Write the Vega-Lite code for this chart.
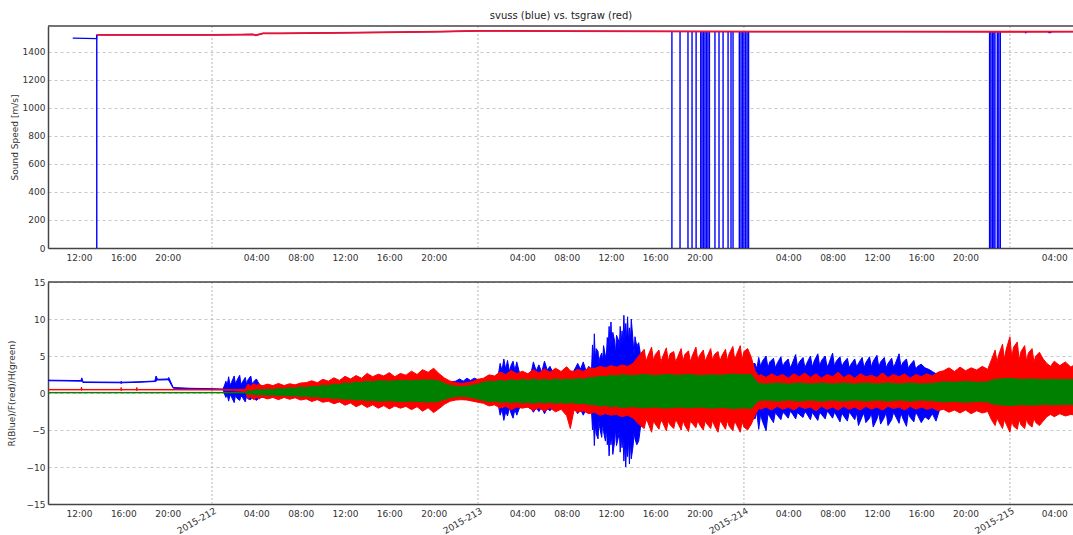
{
"$schema": "https://vega.github.io/schema/vega-lite/v6.json",
"padding": {"left": 7, "top": 11, "right": 0, "bottom": 0},
"spacing": 16,
"config": {
  "view": {"stroke": null},
  "font": "DejaVu Sans",
  "axis": {"labelFont": "DejaVu Sans", "labelFontSize": 9, "labelColor": "#333", "titleFont": "DejaVu Sans", "titleFontSize": 9, "titleFontWeight": "normal", "titleColor": "#333", "domainColor": "#444", "domainWidth": 1.5, "ticks": false, "gridColor": "#c8c8c8", "gridDash": [3, 3], "labelPadding": 5},
  "axisY": {"labelPadding": 3, "labelOverlap": false},
  "title": {"font": "DejaVu Sans", "fontSize": 10, "fontWeight": "normal", "color": "#222"}
},
"datasets": {
  "M": [{"t": "2015-07-31T00:00"}, {"t": "2015-08-01T00:00"}, {"t": "2015-08-02T00:00"}, {"t": "2015-08-03T00:00"}],
  "S": [{"t":"2015-07-30T11:26","v":1498},{"t":"2015-07-30T13:35","v":1495},{"t":"2015-07-30T13:37","v":1521},{"t":"2015-07-30T18:30","v":1521},{"t":"2015-07-31T00:00","v":1521},{"t":"2015-07-31T02:37","v":1524},{"t":"2015-07-31T03:40","v":1525},{"t":"2015-07-31T03:58","v":1519},{"t":"2015-07-31T04:36","v":1532},{"t":"2015-07-31T06:14","v":1533},{"t":"2015-07-31T10:44","v":1536},{"t":"2015-07-31T15:15","v":1540},{"t":"2015-07-31T20:40","v":1545},{"t":"2015-08-01T00:00","v":1550},{"t":"2015-08-01T07:29","v":1549},{"t":"2015-08-01T16:31","v":1546},{"t":"2015-08-02T01:32","v":1545},{"t":"2015-08-02T14:10","v":1545},{"t":"2015-08-03T00:00","v":1544},{"t":"2015-08-03T01:20","v":1544},{"t":"2015-08-03T01:26","v":1536},{"t":"2015-08-03T01:32","v":1544},{"t":"2015-08-03T03:25","v":1544},{"t":"2015-08-03T03:31","v":1537},{"t":"2015-08-03T03:40","v":1537},{"t":"2015-08-03T03:46","v":1544},{"t":"2015-08-03T06:00","v":1545}],
  "T": [{"t":"2015-07-30T13:37","v":1521},{"t":"2015-07-30T18:30","v":1521},{"t":"2015-07-31T00:00","v":1521},{"t":"2015-07-31T02:37","v":1524},{"t":"2015-07-31T03:40","v":1525},{"t":"2015-07-31T03:58","v":1519},{"t":"2015-07-31T04:36","v":1532},{"t":"2015-07-31T06:14","v":1533},{"t":"2015-07-31T10:44","v":1536},{"t":"2015-07-31T15:15","v":1540},{"t":"2015-07-31T20:40","v":1545},{"t":"2015-08-01T00:00","v":1550},{"t":"2015-08-01T07:29","v":1549},{"t":"2015-08-01T16:31","v":1546},{"t":"2015-08-02T01:32","v":1545},{"t":"2015-08-02T14:10","v":1545},{"t":"2015-08-03T00:00","v":1544},{"t":"2015-08-03T06:00","v":1545}],
  "D": [{"t":"2015-07-30T13:36","v":1521},
    {"t":"2015-08-01T17:30","v":1547},{"t":"2015-08-01T18:14","v":1547},{"t":"2015-08-01T18:57","v":1547},{"t":"2015-08-01T19:19","v":1547},{"t":"2015-08-01T19:41","v":1547},{"t":"2015-08-01T20:06","v":1547},{"t":"2015-08-01T20:13","v":1547},{"t":"2015-08-01T20:21","v":1547},{"t":"2015-08-01T20:29","v":1547},{"t":"2015-08-01T20:37","v":1547},{"t":"2015-08-01T20:45","v":1547},{"t":"2015-08-01T20:53","v":1547},{"t":"2015-08-01T21:23","v":1547},{"t":"2015-08-01T21:45","v":1547},{"t":"2015-08-01T22:07","v":1547},{"t":"2015-08-01T22:34","v":1547},{"t":"2015-08-01T22:50","v":1547},{"t":"2015-08-01T23:01","v":1547},{"t":"2015-08-01T23:35","v":1547},{"t":"2015-08-01T23:44","v":1547},{"t":"2015-08-01T23:52","v":1547},{"t":"2015-08-02T00:00","v":1547},{"t":"2015-08-02T00:09","v":1547},{"t":"2015-08-02T00:17","v":1547},{"t":"2015-08-02T00:25","v":1547},
    {"t":"2015-08-02T22:10","v":1545},{"t":"2015-08-02T22:17","v":1545},{"t":"2015-08-02T22:25","v":1545},{"t":"2015-08-02T22:33","v":1545},{"t":"2015-08-02T22:39","v":1545},{"t":"2015-08-02T22:52","v":1545},{"t":"2015-08-02T23:00","v":1545},{"t":"2015-08-02T23:08","v":1545}],
  "R": [{"t":"2015-07-30T09:00","lo":1.66,"hi":1.74},{"t":"2015-07-30T11:00","lo":1.62,"hi":1.7},{"t":"2015-07-30T12:10","lo":1.6,"hi":1.68},{"t":"2015-07-30T12:15","lo":1.58,"hi":2.05},{"t":"2015-07-30T12:22","lo":1.42,"hi":1.5},{"t":"2015-07-30T14:00","lo":1.4,"hi":1.48},{"t":"2015-07-30T15:45","lo":1.38,"hi":1.46},{"t":"2015-07-30T15:48","lo":1.25,"hi":1.6},{"t":"2015-07-30T15:52","lo":1.38,"hi":1.46},{"t":"2015-07-30T17:30","lo":1.45,"hi":1.52},{"t":"2015-07-30T18:50","lo":1.55,"hi":1.62},{"t":"2015-07-30T18:57","lo":1.6,"hi":2.3},{"t":"2015-07-30T19:05","lo":1.75,"hi":1.85},{"t":"2015-07-30T20:00","lo":1.78,"hi":1.9},{"t":"2015-07-30T20:06","lo":1.7,"hi":2.1},{"t":"2015-07-30T20:30","lo":0.64,"hi":0.74},{"t":"2015-07-30T22:00","lo":0.56,"hi":0.64},{"t":"2015-07-31T00:00","lo":0.5,"hi":0.58},{"t":"2015-07-31T01:00","lo":0.46,"hi":0.54},
    {"t":"2015-07-31T01:10","lo":-0.3,"hi":1.2},{"t":"2015-07-31T01:15","lo":-0.6,"hi":1.6},{"t":"2015-07-31T01:22","lo":-0.2,"hi":1.0},{"t":"2015-07-31T01:30","lo":-1.1,"hi":2.2},{"t":"2015-07-31T01:37","lo":-0.3,"hi":1.1},{"t":"2015-07-31T01:45","lo":-0.5,"hi":1.4},{"t":"2015-07-31T02:00","lo":-1.3,"hi":2.3},{"t":"2015-07-31T02:07","lo":-0.3,"hi":1.2},{"t":"2015-07-31T02:15","lo":-0.7,"hi":1.7},{"t":"2015-07-31T02:30","lo":-1.0,"hi":2.4},{"t":"2015-07-31T02:37","lo":-0.4,"hi":1.1},{"t":"2015-07-31T02:45","lo":-0.6,"hi":1.5},{"t":"2015-07-31T03:00","lo":-1.2,"hi":2.1},{"t":"2015-07-31T03:07","lo":-0.4,"hi":1.2},{"t":"2015-07-31T03:15","lo":-0.8,"hi":1.8},{"t":"2015-07-31T03:30","lo":-0.9,"hi":2.3},{"t":"2015-07-31T03:37","lo":-0.4,"hi":1.2},{"t":"2015-07-31T03:45","lo":-0.7,"hi":1.5},{"t":"2015-07-31T04:00","lo":-1.0,"hi":1.9},{"t":"2015-07-31T04:20","lo":-0.6,"hi":1.0},
    {"t":"2015-07-31T05:00","lo":-0.5,"hi":0.8},{"t":"2015-07-31T07:00","lo":-0.5,"hi":0.9},{"t":"2015-07-31T09:00","lo":-0.7,"hi":1.1},{"t":"2015-07-31T11:00","lo":-1.0,"hi":1.5},{"t":"2015-07-31T13:00","lo":-1.2,"hi":1.7},{"t":"2015-07-31T16:00","lo":-1.3,"hi":1.9},{"t":"2015-07-31T19:00","lo":-1.4,"hi":2.0},{"t":"2015-07-31T20:30","lo":-1.3,"hi":1.9},{"t":"2015-07-31T21:30","lo":-0.9,"hi":1.5},{"t":"2015-07-31T22:00","lo":-0.8,"hi":1.6},{"t":"2015-07-31T22:20","lo":-0.7,"hi":1.9},{"t":"2015-07-31T22:40","lo":-0.8,"hi":1.6},{"t":"2015-07-31T23:00","lo":-0.8,"hi":2.0},{"t":"2015-07-31T23:20","lo":-0.9,"hi":1.7},{"t":"2015-07-31T23:40","lo":-0.9,"hi":2.0},{"t":"2015-08-01T00:00","lo":-1.0,"hi":1.8},{"t":"2015-08-01T00:30","lo":-1.2,"hi":1.8},{"t":"2015-08-01T01:00","lo":-1.3,"hi":2.0},{"t":"2015-08-01T01:30","lo":-1.4,"hi":2.1},{"t":"2015-08-01T01:50","lo":-1.6,"hi":2.4},
    {"t":"2015-08-01T02:00","lo":-3.0,"hi":4.0},{"t":"2015-08-01T02:10","lo":-2.2,"hi":3.0},{"t":"2015-08-01T02:20","lo":-3.7,"hi":4.6},{"t":"2015-08-01T02:30","lo":-2.5,"hi":3.2},{"t":"2015-08-01T02:40","lo":-3.1,"hi":4.4},{"t":"2015-08-01T02:50","lo":-2.0,"hi":2.9},{"t":"2015-08-01T03:00","lo":-2.8,"hi":3.8},{"t":"2015-08-01T03:10","lo":-3.4,"hi":4.3},{"t":"2015-08-01T03:20","lo":-2.2,"hi":3.0},{"t":"2015-08-01T03:30","lo":-3.0,"hi":4.2},{"t":"2015-08-01T03:45","lo":-2.0,"hi":2.7},{"t":"2015-08-01T04:00","lo":-1.8,"hi":2.5},{"t":"2015-08-01T04:30","lo":-1.9,"hi":2.4},{"t":"2015-08-01T04:50","lo":-2.2,"hi":3.0},{"t":"2015-08-01T05:00","lo":-2.6,"hi":4.2},{"t":"2015-08-01T05:15","lo":-2.0,"hi":3.0},{"t":"2015-08-01T05:30","lo":-2.5,"hi":3.8},{"t":"2015-08-01T05:45","lo":-1.9,"hi":2.8},{"t":"2015-08-01T06:00","lo":-2.8,"hi":4.3},{"t":"2015-08-01T06:15","lo":-2.1,"hi":3.1},{"t":"2015-08-01T06:30","lo":-2.4,"hi":3.6},{"t":"2015-08-01T06:50","lo":-1.8,"hi":2.5},{"t":"2015-08-01T07:30","lo":-1.8,"hi":2.5},{"t":"2015-08-01T08:30","lo":-1.8,"hi":2.6},{"t":"2015-08-01T08:50","lo":-2.4,"hi":3.5},{"t":"2015-08-01T09:00","lo":-2.8,"hi":4.0},{"t":"2015-08-01T09:15","lo":-2.2,"hi":3.2},{"t":"2015-08-01T09:30","lo":-3.0,"hi":4.2},{"t":"2015-08-01T09:45","lo":-2.2,"hi":3.0},{"t":"2015-08-01T10:00","lo":-2.6,"hi":3.6},{"t":"2015-08-01T10:15","lo":-2.5,"hi":3.2},
    {"t":"2015-08-01T10:20","lo":-5.0,"hi":6.5},{"t":"2015-08-01T10:25","lo":-3.5,"hi":4.0},{"t":"2015-08-01T10:30","lo":-7.1,"hi":8.0},{"t":"2015-08-01T10:35","lo":-4.2,"hi":4.5},{"t":"2015-08-01T10:40","lo":-5.5,"hi":6.0},{"t":"2015-08-01T10:50","lo":-6.2,"hi":5.6},{"t":"2015-08-01T10:55","lo":-3.8,"hi":3.9},{"t":"2015-08-01T11:00","lo":-4.8,"hi":4.8},{"t":"2015-08-01T11:10","lo":-6.0,"hi":5.4},{"t":"2015-08-01T11:15","lo":-4.0,"hi":4.2},{"t":"2015-08-01T11:20","lo":-5.2,"hi":6.4},{"t":"2015-08-01T11:30","lo":-6.5,"hi":5.0},{"t":"2015-08-01T11:35","lo":-4.5,"hi":4.8},{"t":"2015-08-01T11:40","lo":-7.0,"hi":7.5},{"t":"2015-08-01T11:45","lo":-5.5,"hi":6.0},{"t":"2015-08-01T11:50","lo":-8.5,"hi":9.0},{"t":"2015-08-01T11:55","lo":-5.8,"hi":6.2},{"t":"2015-08-01T12:00","lo":-7.0,"hi":9.6},{"t":"2015-08-01T12:05","lo":-5.5,"hi":6.5},{"t":"2015-08-01T12:10","lo":-8.3,"hi":8.2},{"t":"2015-08-01T12:20","lo":-6.5,"hi":7.0},{"t":"2015-08-01T12:25","lo":-4.8,"hi":5.2},{"t":"2015-08-01T12:30","lo":-7.1,"hi":7.8},{"t":"2015-08-01T12:40","lo":-6.0,"hi":7.2},{"t":"2015-08-01T12:45","lo":-5.0,"hi":5.8},{"t":"2015-08-01T12:50","lo":-8.0,"hi":9.0},{"t":"2015-08-01T12:55","lo":-5.6,"hi":6.4},{"t":"2015-08-01T13:00","lo":-7.4,"hi":8.4},{"t":"2015-08-01T13:05","lo":-6.0,"hi":6.8},{"t":"2015-08-01T13:10","lo":-9.2,"hi":10.5},{"t":"2015-08-01T13:15","lo":-6.5,"hi":7.0},{"t":"2015-08-01T13:20","lo":-10.0,"hi":9.4},{"t":"2015-08-01T13:25","lo":-6.8,"hi":7.2},{"t":"2015-08-01T13:30","lo":-8.6,"hi":10.3},{"t":"2015-08-01T13:35","lo":-6.2,"hi":7.0},{"t":"2015-08-01T13:40","lo":-9.6,"hi":8.8},{"t":"2015-08-01T13:45","lo":-6.5,"hi":6.8},{"t":"2015-08-01T13:50","lo":-8.9,"hi":10.0},{"t":"2015-08-01T14:00","lo":-7.1,"hi":6.9},{"t":"2015-08-01T14:05","lo":-5.2,"hi":5.0},{"t":"2015-08-01T14:10","lo":-6.2,"hi":7.6},{"t":"2015-08-01T14:20","lo":-7.0,"hi":6.3},{"t":"2015-08-01T14:30","lo":-6.5,"hi":6.8},{"t":"2015-08-01T14:38","lo":-5.0,"hi":5.5},{"t":"2015-08-01T14:45","lo":-3.0,"hi":3.5},{"t":"2015-08-01T15:00","lo":-3.2,"hi":3.8},{"t":"2015-08-01T18:00","lo":-3.3,"hi":3.8},{"t":"2015-08-01T22:00","lo":-3.3,"hi":3.8},{"t":"2015-08-02T00:30","lo":-3.3,"hi":3.8},
    {"t":"2015-08-02T01:00","lo":-3.5,"hi":4.0},{"t":"2015-08-02T01:10","lo":-2.6,"hi":3.3},{"t":"2015-08-02T01:20","lo":-4.9,"hi":4.8},{"t":"2015-08-02T01:30","lo":-2.9,"hi":3.6},{"t":"2015-08-02T01:40","lo":-3.8,"hi":4.3},{"t":"2015-08-02T02:00","lo":-5.1,"hi":5.0},{"t":"2015-08-02T02:10","lo":-2.8,"hi":3.4},{"t":"2015-08-02T02:20","lo":-3.2,"hi":4.2},{"t":"2015-08-02T02:40","lo":-4.0,"hi":4.7},{"t":"2015-08-02T02:50","lo":-2.6,"hi":3.4},{"t":"2015-08-02T03:00","lo":-3.0,"hi":4.0},{"t":"2015-08-02T03:20","lo":-3.6,"hi":4.9},{"t":"2015-08-02T03:30","lo":-2.6,"hi":3.5},{"t":"2015-08-02T03:40","lo":-2.8,"hi":4.1},{"t":"2015-08-02T04:00","lo":-3.4,"hi":4.6},{"t":"2015-08-02T04:10","lo":-2.5,"hi":3.4},{"t":"2015-08-02T04:20","lo":-2.7,"hi":3.9},{"t":"2015-08-02T04:40","lo":-3.5,"hi":5.2},{"t":"2015-08-02T04:50","lo":-2.6,"hi":3.5},{"t":"2015-08-02T05:00","lo":-2.9,"hi":4.2},{"t":"2015-08-02T05:20","lo":-3.3,"hi":4.8},{"t":"2015-08-02T05:30","lo":-2.5,"hi":3.4},{"t":"2015-08-02T05:40","lo":-2.8,"hi":4.0},{"t":"2015-08-02T06:00","lo":-3.6,"hi":5.0},{"t":"2015-08-02T06:10","lo":-2.6,"hi":3.5},{"t":"2015-08-02T06:20","lo":-3.0,"hi":4.3},{"t":"2015-08-02T06:40","lo":-3.7,"hi":5.3},{"t":"2015-08-02T06:50","lo":-2.6,"hi":3.6},{"t":"2015-08-02T07:00","lo":-2.9,"hi":4.4},{"t":"2015-08-02T07:20","lo":-3.5,"hi":5.0},{"t":"2015-08-02T07:30","lo":-2.5,"hi":3.5},{"t":"2015-08-02T07:40","lo":-2.7,"hi":4.0},{"t":"2015-08-02T08:00","lo":-3.4,"hi":5.4},{"t":"2015-08-02T08:10","lo":-2.6,"hi":3.6},{"t":"2015-08-02T08:20","lo":-3.0,"hi":4.3},{"t":"2015-08-02T08:40","lo":-3.9,"hi":4.9},{"t":"2015-08-02T08:50","lo":-2.7,"hi":3.5},{"t":"2015-08-02T09:00","lo":-3.1,"hi":4.1},{"t":"2015-08-02T09:20","lo":-3.8,"hi":4.7},{"t":"2015-08-02T09:30","lo":-2.6,"hi":3.4},{"t":"2015-08-02T09:40","lo":-2.9,"hi":3.9},{"t":"2015-08-02T10:00","lo":-3.6,"hi":4.6},{"t":"2015-08-02T10:10","lo":-2.7,"hi":3.5},{"t":"2015-08-02T10:20","lo":-4.4,"hi":4.0},{"t":"2015-08-02T10:40","lo":-3.2,"hi":4.8},{"t":"2015-08-02T10:50","lo":-2.7,"hi":3.4},{"t":"2015-08-02T11:00","lo":-4.0,"hi":4.1},{"t":"2015-08-02T11:20","lo":-3.4,"hi":4.9},{"t":"2015-08-02T11:30","lo":-2.7,"hi":3.5},{"t":"2015-08-02T11:40","lo":-4.6,"hi":4.3},{"t":"2015-08-02T12:00","lo":-3.5,"hi":5.1},{"t":"2015-08-02T12:10","lo":-2.7,"hi":3.5},{"t":"2015-08-02T12:20","lo":-4.2,"hi":4.2},{"t":"2015-08-02T12:40","lo":-3.3,"hi":4.8},{"t":"2015-08-02T12:50","lo":-2.6,"hi":3.4},{"t":"2015-08-02T13:00","lo":-4.4,"hi":4.0},{"t":"2015-08-02T13:20","lo":-3.6,"hi":4.7},{"t":"2015-08-02T13:30","lo":-2.6,"hi":3.4},{"t":"2015-08-02T13:40","lo":-3.1,"hi":4.0},{"t":"2015-08-02T14:00","lo":-4.1,"hi":5.3},{"t":"2015-08-02T14:10","lo":-2.7,"hi":3.5},{"t":"2015-08-02T14:20","lo":-3.4,"hi":4.1},{"t":"2015-08-02T14:40","lo":-4.5,"hi":4.6},{"t":"2015-08-02T14:50","lo":-2.7,"hi":3.3},{"t":"2015-08-02T15:00","lo":-3.3,"hi":3.8},{"t":"2015-08-02T15:20","lo":-3.9,"hi":4.4},{"t":"2015-08-02T15:30","lo":-2.6,"hi":3.2},{"t":"2015-08-02T15:40","lo":-3.0,"hi":3.6},{"t":"2015-08-02T16:00","lo":-4.0,"hi":3.9},{"t":"2015-08-02T16:20","lo":-3.2,"hi":3.4},{"t":"2015-08-02T16:40","lo":-3.6,"hi":3.2},{"t":"2015-08-02T17:00","lo":-2.8,"hi":2.9},{"t":"2015-08-02T17:20","lo":-3.8,"hi":2.6},{"t":"2015-08-02T17:40","lo":-2.2,"hi":2.4},
    {"t":"2015-08-02T18:30","lo":-2.0,"hi":2.4},{"t":"2015-08-02T22:00","lo":-2.0,"hi":2.4},{"t":"2015-08-02T22:30","lo":-3.0,"hi":3.6},{"t":"2015-08-03T03:00","lo":-3.0,"hi":3.6},{"t":"2015-08-03T03:30","lo":-2.5,"hi":3.2},{"t":"2015-08-03T06:00","lo":-2.5,"hi":3.2}],
  "F": [{"t":"2015-07-30T09:00","lo":0.42,"hi":0.48},{"t":"2015-07-30T12:10","lo":0.42,"hi":0.48},{"t":"2015-07-30T12:13","lo":0.35,"hi":0.8},{"t":"2015-07-30T12:16","lo":0.42,"hi":0.48},{"t":"2015-07-30T15:45","lo":0.42,"hi":0.48},{"t":"2015-07-30T15:48","lo":0.3,"hi":0.75},{"t":"2015-07-30T15:51","lo":0.42,"hi":0.48},{"t":"2015-07-30T17:10","lo":0.42,"hi":0.48},{"t":"2015-07-30T17:13","lo":0.3,"hi":0.75},{"t":"2015-07-30T17:16","lo":0.42,"hi":0.48},{"t":"2015-07-31T01:00","lo":0.4,"hi":0.48},{"t":"2015-07-31T02:00","lo":0.3,"hi":0.45},{"t":"2015-07-31T03:00","lo":0.2,"hi":0.5},
    {"t":"2015-07-31T03:15","lo":-0.8,"hi":1.2},{"t":"2015-07-31T03:30","lo":-0.5,"hi":0.9},{"t":"2015-07-31T03:45","lo":-0.9,"hi":1.3},{"t":"2015-07-31T04:00","lo":-0.6,"hi":1.0},{"t":"2015-07-31T04:15","lo":-0.8,"hi":1.25},{"t":"2015-07-31T04:30","lo":-0.55,"hi":0.95},{"t":"2015-07-31T05:00","lo":-0.8,"hi":1.2},{"t":"2015-07-31T05:30","lo":-0.6,"hi":1.0},{"t":"2015-07-31T06:00","lo":-0.9,"hi":1.3},{"t":"2015-07-31T06:30","lo":-0.6,"hi":1.0},{"t":"2015-07-31T07:00","lo":-0.85,"hi":1.25},{"t":"2015-07-31T07:30","lo":-0.65,"hi":1.1},{"t":"2015-07-31T08:00","lo":-0.95,"hi":1.35},{"t":"2015-07-31T08:30","lo":-0.8,"hi":1.4},{"t":"2015-07-31T09:00","lo":-1.15,"hi":1.65},{"t":"2015-07-31T09:30","lo":-0.9,"hi":1.4},{"t":"2015-07-31T10:00","lo":-1.25,"hi":1.85},{"t":"2015-07-31T10:30","lo":-1.1,"hi":1.6},{"t":"2015-07-31T11:00","lo":-1.45,"hi":2.05},{"t":"2015-07-31T11:30","lo":-1.2,"hi":1.7},{"t":"2015-07-31T12:00","lo":-1.65,"hi":2.25},{"t":"2015-07-31T12:30","lo":-1.35,"hi":1.9},{"t":"2015-07-31T13:00","lo":-1.85,"hi":2.35},{"t":"2015-07-31T13:30","lo":-1.5,"hi":2.0},{"t":"2015-07-31T14:00","lo":-1.95,"hi":2.65},{"t":"2015-07-31T14:30","lo":-1.6,"hi":2.2},{"t":"2015-07-31T15:00","lo":-2.05,"hi":2.55},{"t":"2015-07-31T15:30","lo":-1.7,"hi":2.3},{"t":"2015-07-31T16:00","lo":-2.15,"hi":2.75},{"t":"2015-07-31T16:30","lo":-1.75,"hi":2.2},{"t":"2015-07-31T17:00","lo":-2.05,"hi":2.65},{"t":"2015-07-31T17:30","lo":-1.8,"hi":2.4},{"t":"2015-07-31T18:00","lo":-2.25,"hi":2.95},{"t":"2015-07-31T18:30","lo":-1.85,"hi":2.5},{"t":"2015-07-31T19:00","lo":-2.45,"hi":3.15},{"t":"2015-07-31T19:30","lo":-2.0,"hi":2.8},{"t":"2015-07-31T20:00","lo":-2.65,"hi":3.35},{"t":"2015-07-31T20:30","lo":-2.1,"hi":2.6},{"t":"2015-07-31T21:00","lo":-1.5,"hi":2.0},{"t":"2015-07-31T21:30","lo":-1.1,"hi":1.6},{"t":"2015-07-31T22:00","lo":-0.95,"hi":1.4},{"t":"2015-07-31T22:30","lo":-0.9,"hi":1.3},{"t":"2015-07-31T23:00","lo":-0.95,"hi":1.4},{"t":"2015-07-31T23:30","lo":-1.1,"hi":1.55},
    {"t":"2015-08-01T00:00","lo":-1.25,"hi":1.85},{"t":"2015-08-01T00:30","lo":-1.4,"hi":2.0},{"t":"2015-08-01T01:00","lo":-1.75,"hi":2.45},{"t":"2015-08-01T01:30","lo":-1.6,"hi":2.3},{"t":"2015-08-01T02:00","lo":-2.05,"hi":2.85},{"t":"2015-08-01T02:30","lo":-1.8,"hi":2.5},{"t":"2015-08-01T03:00","lo":-2.25,"hi":3.05},{"t":"2015-08-01T03:30","lo":-1.9,"hi":2.6},{"t":"2015-08-01T04:00","lo":-2.05,"hi":2.95},{"t":"2015-08-01T04:30","lo":-1.9,"hi":2.6},{"t":"2015-08-01T05:00","lo":-2.35,"hi":3.15},{"t":"2015-08-01T05:30","lo":-2.0,"hi":2.7},{"t":"2015-08-01T06:00","lo":-2.45,"hi":3.25},{"t":"2015-08-01T06:30","lo":-2.0,"hi":2.8},{"t":"2015-08-01T07:00","lo":-2.55,"hi":3.35},{"t":"2015-08-01T07:30","lo":-2.2,"hi":2.9},{"t":"2015-08-01T08:00","lo":-3.05,"hi":3.55},{"t":"2015-08-01T08:20","lo":-4.8,"hi":3.0},{"t":"2015-08-01T08:40","lo":-2.3,"hi":2.9},{"t":"2015-08-01T09:00","lo":-2.6,"hi":3.2},{"t":"2015-08-01T09:30","lo":-2.4,"hi":2.9},{"t":"2015-08-01T10:00","lo":-2.8,"hi":3.4},{"t":"2015-08-01T10:30","lo":-2.6,"hi":3.3},{"t":"2015-08-01T11:00","lo":-3.0,"hi":3.6},{"t":"2015-08-01T11:30","lo":-2.8,"hi":3.4},{"t":"2015-08-01T12:00","lo":-3.0,"hi":3.7},{"t":"2015-08-01T12:30","lo":-2.9,"hi":3.5},{"t":"2015-08-01T13:00","lo":-3.2,"hi":3.8},{"t":"2015-08-01T13:30","lo":-3.0,"hi":3.6},{"t":"2015-08-01T14:00","lo":-3.4,"hi":4.0},{"t":"2015-08-01T14:30","lo":-4.2,"hi":5.0},{"t":"2015-08-01T15:00","lo":-4.8,"hi":5.9},{"t":"2015-08-01T15:10","lo":-3.6,"hi":4.3},{"t":"2015-08-01T15:20","lo":-4.0,"hi":5.0},{"t":"2015-08-01T15:40","lo":-5.3,"hi":6.2},{"t":"2015-08-01T15:50","lo":-3.8,"hi":4.4},{"t":"2015-08-01T16:00","lo":-4.2,"hi":5.2},{"t":"2015-08-01T16:20","lo":-4.9,"hi":5.8},{"t":"2015-08-01T16:30","lo":-3.7,"hi":4.2},{"t":"2015-08-01T16:40","lo":-4.0,"hi":4.9},{"t":"2015-08-01T17:00","lo":-5.1,"hi":6.1},{"t":"2015-08-01T17:10","lo":-3.8,"hi":4.3},{"t":"2015-08-01T17:20","lo":-4.3,"hi":5.3},{"t":"2015-08-01T17:40","lo":-4.8,"hi":5.6},{"t":"2015-08-01T17:50","lo":-3.6,"hi":4.2},{"t":"2015-08-01T18:00","lo":-4.0,"hi":4.8},{"t":"2015-08-01T18:20","lo":-5.0,"hi":6.0},{"t":"2015-08-01T18:30","lo":-3.7,"hi":4.3},{"t":"2015-08-01T18:40","lo":-4.4,"hi":5.2},{"t":"2015-08-01T19:00","lo":-5.2,"hi":5.7},{"t":"2015-08-01T19:10","lo":-3.8,"hi":4.2},{"t":"2015-08-01T19:20","lo":-4.1,"hi":5.0},{"t":"2015-08-01T19:40","lo":-4.7,"hi":6.2},{"t":"2015-08-01T19:50","lo":-3.7,"hi":4.4},{"t":"2015-08-01T20:00","lo":-4.3,"hi":5.1},{"t":"2015-08-01T20:20","lo":-5.0,"hi":5.8},{"t":"2015-08-01T20:30","lo":-3.8,"hi":4.3},{"t":"2015-08-01T20:40","lo":-4.2,"hi":4.9},{"t":"2015-08-01T21:00","lo":-4.8,"hi":6.0},{"t":"2015-08-01T21:10","lo":-3.7,"hi":4.4},{"t":"2015-08-01T21:20","lo":-4.4,"hi":5.2},{"t":"2015-08-01T21:40","lo":-5.3,"hi":5.6},{"t":"2015-08-01T21:50","lo":-3.8,"hi":4.3},{"t":"2015-08-01T22:00","lo":-4.1,"hi":5.0},{"t":"2015-08-01T22:20","lo":-4.9,"hi":5.9},{"t":"2015-08-01T22:30","lo":-3.7,"hi":4.4},{"t":"2015-08-01T22:40","lo":-4.5,"hi":5.3},{"t":"2015-08-01T23:00","lo":-5.1,"hi":6.3},{"t":"2015-08-01T23:10","lo":-3.8,"hi":4.5},{"t":"2015-08-01T23:20","lo":-4.3,"hi":5.2},{"t":"2015-08-01T23:40","lo":-5.3,"hi":6.4},{"t":"2015-08-01T23:50","lo":-3.9,"hi":4.5},
    {"t":"2015-08-02T00:00","lo":-4.6,"hi":5.6},{"t":"2015-08-02T00:20","lo":-5.0,"hi":6.0},{"t":"2015-08-02T00:40","lo":-4.2,"hi":4.8},{"t":"2015-08-02T01:00","lo":-3.0,"hi":3.0},{"t":"2015-08-02T01:20","lo":-2.1,"hi":2.3},{"t":"2015-08-02T01:30","lo":-2.2,"hi":2.5},{"t":"2015-08-02T02:00","lo":-1.9,"hi":2.1},{"t":"2015-08-02T02:30","lo":-2.3,"hi":2.6},{"t":"2015-08-02T03:00","lo":-1.8,"hi":2.2},{"t":"2015-08-02T03:30","lo":-2.2,"hi":2.5},{"t":"2015-08-02T04:00","lo":-1.9,"hi":2.0},{"t":"2015-08-02T04:30","lo":-2.3,"hi":2.6},{"t":"2015-08-02T05:00","lo":-1.8,"hi":2.2},{"t":"2015-08-02T05:30","lo":-2.1,"hi":2.7},{"t":"2015-08-02T06:00","lo":-1.9,"hi":2.1},{"t":"2015-08-02T06:30","lo":-2.4,"hi":2.6},{"t":"2015-08-02T07:00","lo":-1.8,"hi":2.0},{"t":"2015-08-02T07:30","lo":-2.2,"hi":2.5},{"t":"2015-08-02T08:00","lo":-1.9,"hi":2.2},{"t":"2015-08-02T08:30","lo":-2.3,"hi":2.8},{"t":"2015-08-02T09:00","lo":-1.8,"hi":2.1},{"t":"2015-08-02T09:30","lo":-2.2,"hi":2.5},{"t":"2015-08-02T10:00","lo":-1.9,"hi":2.0},{"t":"2015-08-02T10:30","lo":-2.3,"hi":2.6},{"t":"2015-08-02T11:00","lo":-1.8,"hi":2.2},{"t":"2015-08-02T11:30","lo":-2.2,"hi":2.4},{"t":"2015-08-02T12:00","lo":-1.9,"hi":2.1},{"t":"2015-08-02T12:30","lo":-2.3,"hi":2.7},{"t":"2015-08-02T13:00","lo":-1.8,"hi":2.1},{"t":"2015-08-02T13:30","lo":-2.1,"hi":2.5},{"t":"2015-08-02T14:00","lo":-1.9,"hi":2.2},{"t":"2015-08-02T14:30","lo":-2.3,"hi":2.6},{"t":"2015-08-02T15:00","lo":-1.8,"hi":2.0},{"t":"2015-08-02T15:30","lo":-2.2,"hi":2.5},{"t":"2015-08-02T16:00","lo":-1.9,"hi":2.2},{"t":"2015-08-02T16:30","lo":-2.2,"hi":2.6},{"t":"2015-08-02T17:00","lo":-2.0,"hi":2.3},{"t":"2015-08-02T17:30","lo":-2.4,"hi":2.8},{"t":"2015-08-02T18:00","lo":-2.2,"hi":3.0},{"t":"2015-08-02T18:30","lo":-2.6,"hi":3.4},{"t":"2015-08-02T19:00","lo":-2.3,"hi":2.9},{"t":"2015-08-02T19:30","lo":-2.7,"hi":3.5},{"t":"2015-08-02T20:00","lo":-2.3,"hi":3.0},{"t":"2015-08-02T20:30","lo":-2.8,"hi":3.4},{"t":"2015-08-02T21:00","lo":-2.4,"hi":3.1},{"t":"2015-08-02T21:30","lo":-2.7,"hi":3.6},{"t":"2015-08-02T22:00","lo":-2.5,"hi":3.2},{"t":"2015-08-02T22:20","lo":-3.6,"hi":4.5},{"t":"2015-08-02T22:40","lo":-4.4,"hi":5.8},{"t":"2015-08-02T22:50","lo":-3.4,"hi":4.2},{"t":"2015-08-02T23:00","lo":-3.9,"hi":5.2},{"t":"2015-08-02T23:20","lo":-4.8,"hi":6.6},{"t":"2015-08-02T23:30","lo":-3.6,"hi":4.6},{"t":"2015-08-02T23:40","lo":-4.2,"hi":5.9},
    {"t":"2015-08-03T00:00","lo":-5.3,"hi":7.6},{"t":"2015-08-03T00:10","lo":-3.8,"hi":4.8},{"t":"2015-08-03T00:20","lo":-4.5,"hi":6.2},{"t":"2015-08-03T00:40","lo":-4.9,"hi":6.9},{"t":"2015-08-03T00:50","lo":-3.6,"hi":4.5},{"t":"2015-08-03T01:00","lo":-4.3,"hi":5.6},{"t":"2015-08-03T01:20","lo":-4.8,"hi":6.4},{"t":"2015-08-03T01:30","lo":-3.5,"hi":4.3},{"t":"2015-08-03T01:40","lo":-4.2,"hi":5.4},{"t":"2015-08-03T02:00","lo":-4.6,"hi":6.0},{"t":"2015-08-03T02:10","lo":-3.4,"hi":4.2},{"t":"2015-08-03T02:20","lo":-4.0,"hi":5.0},{"t":"2015-08-03T02:40","lo":-4.4,"hi":5.5},{"t":"2015-08-03T03:00","lo":-3.8,"hi":4.6},{"t":"2015-08-03T03:20","lo":-3.2,"hi":4.0},{"t":"2015-08-03T03:40","lo":-2.9,"hi":3.6},{"t":"2015-08-03T04:00","lo":-3.2,"hi":4.3},{"t":"2015-08-03T04:30","lo":-2.8,"hi":3.7},{"t":"2015-08-03T05:00","lo":-3.1,"hi":4.2},{"t":"2015-08-03T05:30","lo":-2.9,"hi":3.5},{"t":"2015-08-03T06:00","lo":-3.0,"hi":4.0}],
  "H": [{"t":"2015-07-30T09:00","lo":0.02,"hi":0.08},{"t":"2015-07-31T03:00","lo":0.02,"hi":0.08},{"t":"2015-07-31T03:15","lo":-0.2,"hi":0.35},{"t":"2015-07-31T03:30","lo":-0.1,"hi":0.25},{"t":"2015-07-31T04:00","lo":-0.25,"hi":0.45},{"t":"2015-07-31T04:30","lo":-0.2,"hi":0.4},{"t":"2015-07-31T05:00","lo":-0.3,"hi":0.5},{"t":"2015-07-31T05:30","lo":-0.25,"hi":0.45},{"t":"2015-07-31T06:00","lo":-0.35,"hi":0.6},{"t":"2015-07-31T06:30","lo":-0.3,"hi":0.55},{"t":"2015-07-31T07:00","lo":-0.4,"hi":0.7},{"t":"2015-07-31T07:30","lo":-0.35,"hi":0.65},{"t":"2015-07-31T08:00","lo":-0.45,"hi":0.8},{"t":"2015-07-31T08:30","lo":-0.4,"hi":0.75},{"t":"2015-07-31T09:00","lo":-0.55,"hi":0.9},{"t":"2015-07-31T09:30","lo":-0.5,"hi":0.85},{"t":"2015-07-31T10:00","lo":-0.65,"hi":1.05},{"t":"2015-07-31T10:30","lo":-0.6,"hi":1.0},{"t":"2015-07-31T11:00","lo":-0.75,"hi":1.2},{"t":"2015-07-31T11:30","lo":-0.7,"hi":1.15},{"t":"2015-07-31T12:00","lo":-0.85,"hi":1.35},{"t":"2015-07-31T12:30","lo":-0.8,"hi":1.3},{"t":"2015-07-31T13:00","lo":-0.95,"hi":1.45},{"t":"2015-07-31T13:30","lo":-0.9,"hi":1.4},{"t":"2015-07-31T14:00","lo":-1.05,"hi":1.6},{"t":"2015-07-31T14:30","lo":-1.0,"hi":1.5},{"t":"2015-07-31T15:00","lo":-1.1,"hi":1.65},{"t":"2015-07-31T16:00","lo":-1.05,"hi":1.6},{"t":"2015-07-31T17:00","lo":-1.15,"hi":1.7},{"t":"2015-07-31T18:00","lo":-1.1,"hi":1.65},{"t":"2015-07-31T19:00","lo":-1.2,"hi":1.75},{"t":"2015-07-31T20:00","lo":-1.2,"hi":1.75},{"t":"2015-07-31T20:30","lo":-1.1,"hi":1.6},{"t":"2015-07-31T21:00","lo":-0.85,"hi":1.3},{"t":"2015-07-31T21:30","lo":-0.6,"hi":1.0},{"t":"2015-07-31T22:00","lo":-0.5,"hi":0.9},{"t":"2015-07-31T22:30","lo":-0.45,"hi":0.85},{"t":"2015-07-31T23:00","lo":-0.5,"hi":0.9},{"t":"2015-07-31T23:30","lo":-0.65,"hi":1.05},
    {"t":"2015-08-01T00:00","lo":-0.8,"hi":1.2},{"t":"2015-08-01T00:30","lo":-1.0,"hi":1.45},{"t":"2015-08-01T01:00","lo":-1.15,"hi":1.6},{"t":"2015-08-01T01:30","lo":-1.1,"hi":1.55},{"t":"2015-08-01T02:00","lo":-1.25,"hi":1.7},{"t":"2015-08-01T02:30","lo":-1.2,"hi":1.6},{"t":"2015-08-01T03:00","lo":-1.3,"hi":1.8},{"t":"2015-08-01T03:30","lo":-1.2,"hi":1.65},{"t":"2015-08-01T04:00","lo":-1.35,"hi":1.85},{"t":"2015-08-01T04:30","lo":-1.25,"hi":1.7},{"t":"2015-08-01T05:00","lo":-1.4,"hi":1.9},{"t":"2015-08-01T05:30","lo":-1.25,"hi":1.7},{"t":"2015-08-01T06:00","lo":-1.35,"hi":1.85},{"t":"2015-08-01T06:30","lo":-1.25,"hi":1.7},{"t":"2015-08-01T07:00","lo":-1.4,"hi":1.9},{"t":"2015-08-01T07:30","lo":-1.3,"hi":1.75},{"t":"2015-08-01T08:00","lo":-1.4,"hi":1.9},{"t":"2015-08-01T08:30","lo":-1.3,"hi":1.8},{"t":"2015-08-01T09:00","lo":-1.45,"hi":1.95},{"t":"2015-08-01T09:30","lo":-1.4,"hi":1.85},{"t":"2015-08-01T10:00","lo":-1.55,"hi":2.05},{"t":"2015-08-01T10:30","lo":-1.6,"hi":2.1},{"t":"2015-08-01T11:00","lo":-1.75,"hi":2.25},{"t":"2015-08-01T11:30","lo":-1.7,"hi":2.2},{"t":"2015-08-01T12:00","lo":-1.85,"hi":2.4},{"t":"2015-08-01T12:30","lo":-1.8,"hi":2.3},{"t":"2015-08-01T13:00","lo":-1.95,"hi":2.45},{"t":"2015-08-01T14:00","lo":-1.85,"hi":2.35},{"t":"2015-08-01T15:00","lo":-2.0,"hi":2.5},{"t":"2015-08-01T16:00","lo":-1.9,"hi":2.35},{"t":"2015-08-01T17:00","lo":-2.05,"hi":2.5},{"t":"2015-08-01T18:00","lo":-1.9,"hi":2.4},{"t":"2015-08-01T19:00","lo":-2.0,"hi":2.5},{"t":"2015-08-01T20:00","lo":-1.9,"hi":2.35},{"t":"2015-08-01T21:00","lo":-2.05,"hi":2.45},{"t":"2015-08-01T22:00","lo":-1.95,"hi":2.4},{"t":"2015-08-01T23:00","lo":-2.1,"hi":2.55},
    {"t":"2015-08-02T00:00","lo":-2.0,"hi":2.45},{"t":"2015-08-02T00:40","lo":-2.1,"hi":2.5},{"t":"2015-08-02T01:00","lo":-1.5,"hi":1.8},{"t":"2015-08-02T01:20","lo":-1.05,"hi":1.3},{"t":"2015-08-02T02:00","lo":-0.95,"hi":1.2},{"t":"2015-08-02T03:00","lo":-1.1,"hi":1.35},{"t":"2015-08-02T04:00","lo":-0.95,"hi":1.2},{"t":"2015-08-02T05:00","lo":-1.1,"hi":1.35},{"t":"2015-08-02T06:00","lo":-0.95,"hi":1.2},{"t":"2015-08-02T07:00","lo":-1.1,"hi":1.35},{"t":"2015-08-02T08:00","lo":-0.95,"hi":1.2},{"t":"2015-08-02T09:00","lo":-1.1,"hi":1.35},{"t":"2015-08-02T10:00","lo":-0.95,"hi":1.2},{"t":"2015-08-02T11:00","lo":-1.1,"hi":1.35},{"t":"2015-08-02T12:00","lo":-0.95,"hi":1.2},{"t":"2015-08-02T13:00","lo":-1.1,"hi":1.35},{"t":"2015-08-02T14:00","lo":-0.95,"hi":1.2},{"t":"2015-08-02T15:00","lo":-1.1,"hi":1.35},{"t":"2015-08-02T16:00","lo":-0.95,"hi":1.2},{"t":"2015-08-02T17:00","lo":-1.05,"hi":1.3},{"t":"2015-08-02T18:00","lo":-1.2,"hi":1.5},{"t":"2015-08-02T19:00","lo":-1.15,"hi":1.45},{"t":"2015-08-02T20:00","lo":-1.25,"hi":1.55},{"t":"2015-08-02T21:00","lo":-1.15,"hi":1.45},{"t":"2015-08-02T22:00","lo":-1.2,"hi":1.5},{"t":"2015-08-02T22:30","lo":-1.5,"hi":1.8},{"t":"2015-08-02T23:00","lo":-1.6,"hi":1.9},{"t":"2015-08-03T00:00","lo":-1.7,"hi":1.95},{"t":"2015-08-03T01:00","lo":-1.6,"hi":1.85},{"t":"2015-08-03T02:00","lo":-1.65,"hi":1.9},{"t":"2015-08-03T03:00","lo":-1.55,"hi":1.8},{"t":"2015-08-03T04:00","lo":-1.6,"hi":1.85},{"t":"2015-08-03T05:00","lo":-1.55,"hi":1.8},{"t":"2015-08-03T06:00","lo":-1.6,"hi":1.85}]
},
"vconcat": [
  {
    "title": {"text": "svuss (blue) vs. tsgraw (red)", "offset": 4},
    "width": 1026, "height": 222,
    "layer": [
      {"data": {"name": "M"}, "mark": {"type": "rule", "color": "#b8b8b8", "strokeDash": [2, 2], "strokeWidth": 1},
       "encoding": {"x": {"field": "t", "type": "temporal", "scale": {"domain": [{"year": 2015, "month": 7, "date": 30, "hours": 9, "minutes": 12}, {"year": 2015, "month": 8, "date": 3, "hours": 5, "minutes": 47}]}, "axis": {"title": null, "format": "%H:%M", "grid": false, "labelFlush": false, "labelOverlap": false, "values": [{"year":2015,"month":7,"date":30,"hours":12},{"year":2015,"month":7,"date":30,"hours":16},{"year":2015,"month":7,"date":30,"hours":20},{"year":2015,"month":7,"date":31,"hours":4},{"year":2015,"month":7,"date":31,"hours":8},{"year":2015,"month":7,"date":31,"hours":12},{"year":2015,"month":7,"date":31,"hours":16},{"year":2015,"month":7,"date":31,"hours":20},{"year":2015,"month":8,"date":1,"hours":4},{"year":2015,"month":8,"date":1,"hours":8},{"year":2015,"month":8,"date":1,"hours":12},{"year":2015,"month":8,"date":1,"hours":16},{"year":2015,"month":8,"date":1,"hours":20},{"year":2015,"month":8,"date":2,"hours":4},{"year":2015,"month":8,"date":2,"hours":8},{"year":2015,"month":8,"date":2,"hours":12},{"year":2015,"month":8,"date":2,"hours":16},{"year":2015,"month":8,"date":2,"hours":20},{"year":2015,"month":8,"date":3,"hours":4}]}}}},
      {"data": {"name": "S"}, "mark": {"type": "line", "color": "#0000ff", "strokeWidth": 1.2, "clip": true},
       "encoding": {"x": {"field": "t", "type": "temporal"}, "y": {"field": "v", "type": "quantitative", "scale": {"domain": [0, 1585], "nice": false}, "axis": {"title": "Sound Speed [m/s]", "values": [0, 200, 400, 600, 800, 1000, 1200, 1400], "format": "d", "grid": true, "labelOverlap": false, "titlePadding": 3}}}},
      {"data": {"values": [{}]}, "mark": {"type": "rule", "color": "#444", "strokeWidth": 1.5},
       "encoding": {"y": {"datum": 1585, "type": "quantitative", "scale": {"domain": [0, 1585], "nice": false}, "axis": {"title": "Sound Speed [m/s]", "values": [0, 200, 400, 600, 800, 1000, 1200, 1400], "format": "d", "grid": true, "labelOverlap": false, "titlePadding": 3}}}},
      {"data": {"name": "D"}, "mark": {"type": "rule", "color": "#0000ff", "strokeWidth": 1.4, "clip": true},
       "encoding": {"x": {"field": "t", "type": "temporal"}, "y": {"field": "v", "type": "quantitative", "scale": {"domain": [0, 1585], "nice": false}, "axis": {"title": "Sound Speed [m/s]", "values": [0, 200, 400, 600, 800, 1000, 1200, 1400], "format": "d", "grid": true, "labelOverlap": false, "titlePadding": 3}}, "y2": {"datum": 0}}},
      {"data": {"name": "T"}, "mark": {"type": "line", "color": "#f0102a", "strokeWidth": 1.8, "clip": true},
       "encoding": {"x": {"field": "t", "type": "temporal"}, "y": {"field": "v", "type": "quantitative", "scale": {"domain": [0, 1585], "nice": false}, "axis": {"title": "Sound Speed [m/s]", "values": [0, 200, 400, 600, 800, 1000, 1200, 1400], "format": "d", "grid": true, "labelOverlap": false, "titlePadding": 3}}}}
    ]
  },
  {
    "width": 1026, "height": 222,
    "layer": [
      {"data": {"name": "M"}, "mark": {"type": "rule", "color": "#b8b8b8", "strokeDash": [2, 2], "strokeWidth": 1},
       "encoding": {"x": {"field": "t", "type": "temporal", "scale": {"domain": [{"year": 2015, "month": 7, "date": 30, "hours": 9, "minutes": 12}, {"year": 2015, "month": 8, "date": 3, "hours": 5, "minutes": 47}]}, "axis": {"title": null, "format": "%H:%M", "grid": false, "labelFlush": false, "labelOverlap": false, "values": [{"year":2015,"month":7,"date":30,"hours":12},{"year":2015,"month":7,"date":30,"hours":16},{"year":2015,"month":7,"date":30,"hours":20},{"year":2015,"month":7,"date":31,"hours":4},{"year":2015,"month":7,"date":31,"hours":8},{"year":2015,"month":7,"date":31,"hours":12},{"year":2015,"month":7,"date":31,"hours":16},{"year":2015,"month":7,"date":31,"hours":20},{"year":2015,"month":8,"date":1,"hours":4},{"year":2015,"month":8,"date":1,"hours":8},{"year":2015,"month":8,"date":1,"hours":12},{"year":2015,"month":8,"date":1,"hours":16},{"year":2015,"month":8,"date":1,"hours":20},{"year":2015,"month":8,"date":2,"hours":4},{"year":2015,"month":8,"date":2,"hours":8},{"year":2015,"month":8,"date":2,"hours":12},{"year":2015,"month":8,"date":2,"hours":16},{"year":2015,"month":8,"date":2,"hours":20},{"year":2015,"month":8,"date":3,"hours":4}]}}}},
      {"data": {"name": "R"}, "mark": {"type": "area", "color": "#0000ff", "stroke": "#0000ff", "strokeWidth": 1, "opacity": 1, "clip": true},
       "encoding": {"x": {"field": "t", "type": "temporal"}, "y": {"field": "hi", "type": "quantitative", "scale": {"domain": [-15, 15], "nice": false}, "axis": {"title": "R(Blue)/F(red)/H(green)", "values": [-15, -10, -5, 0, 5, 10, 15], "grid": true, "labelOverlap": false, "titlePadding": 10}}, "y2": {"field": "lo"}}},
      {"data": {"values": [{}]}, "mark": {"type": "rule", "color": "#444", "strokeWidth": 1.5},
       "encoding": {"y": {"datum": 15, "type": "quantitative", "scale": {"domain": [-15, 15], "nice": false}, "axis": {"title": "R(Blue)/F(red)/H(green)", "values": [-15, -10, -5, 0, 5, 10, 15], "grid": true, "labelOverlap": false, "titlePadding": 10}}}},
      {"data": {"name": "F"}, "mark": {"type": "area", "color": "#ff0000", "stroke": "#ff0000", "strokeWidth": 1, "opacity": 1, "clip": true},
       "encoding": {"x": {"field": "t", "type": "temporal"}, "y": {"field": "hi", "type": "quantitative", "scale": {"domain": [-15, 15], "nice": false}, "axis": {"title": "R(Blue)/F(red)/H(green)", "values": [-15, -10, -5, 0, 5, 10, 15], "grid": true, "labelOverlap": false, "titlePadding": 10}}, "y2": {"field": "lo"}}},
      {"data": {"name": "H"}, "mark": {"type": "area", "color": "#008000", "stroke": "#008000", "strokeWidth": 1, "opacity": 1, "clip": true},
       "encoding": {"x": {"field": "t", "type": "temporal"}, "y": {"field": "hi", "type": "quantitative", "scale": {"domain": [-15, 15], "nice": false}, "axis": {"title": "R(Blue)/F(red)/H(green)", "values": [-15, -10, -5, 0, 5, 10, 15], "grid": true, "labelOverlap": false, "titlePadding": 10}}, "y2": {"field": "lo"}}},
      {"data": {"name": "M"}, "mark": {"type": "text", "angle": 330, "align": "right", "baseline": "top", "dy": 3, "fontSize": 9, "font": "DejaVu Sans", "color": "#333"},
       "encoding": {"x": {"field": "t", "type": "temporal"}, "y": {"datum": -15, "type": "quantitative", "scale": {"domain": [-15, 15], "nice": false}, "axis": {"title": "R(Blue)/F(red)/H(green)", "values": [-15, -10, -5, 0, 5, 10, 15], "grid": true, "labelOverlap": false, "titlePadding": 10}}, "text": {"field": "t", "type": "temporal", "format": "%Y-%j"}}}
    ]
  }
]
}
